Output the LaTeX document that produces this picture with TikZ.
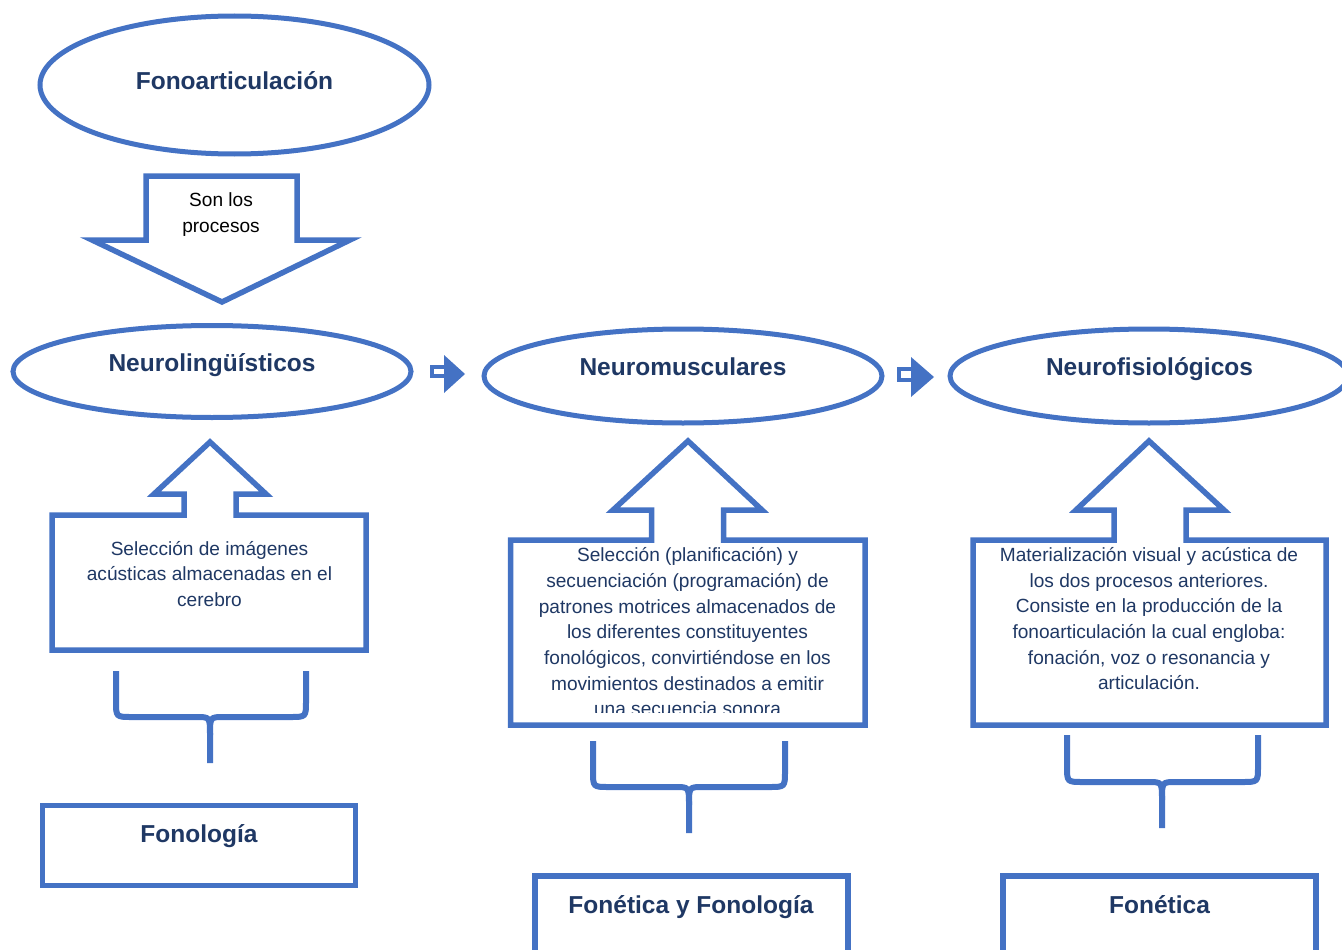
\documentclass[tikz,border=0pt]{standalone}
\usepackage{fontspec}
\setmainfont{Liberation Sans}
\usetikzlibrary{shapes.geometric}
\definecolor{wblue}{HTML}{4472C4}
\definecolor{navy}{HTML}{1F3864}
\newcommand\mybrace[6]{% L, R, top, horiz, cusp, bottom
  \draw[brace] (#1,#3) -- (#1,{#4-16}) .. controls (#1,#4) .. ({#1+16},#4) -- ({#5-14},#4) .. controls (#5,#4) .. (#5,{#4+18}) -- (#5,#6);
  \draw[brace] (#2,#3) -- (#2,{#4-16}) .. controls (#2,#4) .. ({#2-16},#4) -- ({#5+14},#4) .. controls (#5,#4) .. (#5,{#4+18});
}
\begin{document}
\begin{tikzpicture}[x=1pt,y=-1pt,
  ell/.style={ellipse, draw=wblue, line width=5pt, inner sep=0pt, fill=white},
  title/.style={font=\fontsize{24.5}{29}\selectfont\bfseries, text=navy, anchor=base, inner sep=0pt},
  body/.style={font=\fontsize{19.1}{25.6}\selectfont, text=navy, anchor=base, inner sep=0pt},
  blk/.style={draw=wblue, line width=5.5pt, fill=white, line join=miter},
  brace/.style={draw=wblue, line width=6pt},
  smallarrow/.style={draw=wblue, line width=4pt, fill=white},
  smallhead/.style={fill=wblue}
]
\path[use as bounding box] (0,0) rectangle (1342,950);
\clip (0,0) rectangle (1342,950);

% top ellipse
\node[ell, minimum width=389pt, minimum height=138pt] (e1) at (234.5,85) {};
\node[title] (t1) at (234.5,89) {Fonoarticulación};

% down block arrow
\draw[blk] (146,176) -- (297,176) -- (297,240) -- (350,240) -- (222,302) -- (92,240) -- (146,240) -- cycle;
\node[body, text=black] (son) at (221,206.5) {\begin{tabular}[t]{@{}c@{}}Son los\\procesos\end{tabular}};

% three process ellipses
\node[ell, minimum width=398pt, minimum height=92pt] (e2) at (212,371.5) {};
\node[title] (t2) at (212,371) {Neurolingüísticos};
\node[ell, minimum width=398pt, minimum height=94pt] (e3) at (683,376) {};
\node[title] (t3) at (683,375) {Neuromusculares};
\node[ell, minimum width=398pt, minimum height=94pt] (e4) at (1149,376) {};
\node[title] (t4) at (1149.5,375) {Neurofisiológicos};

% small right arrows
\draw[smallarrow] (432,367) rectangle (446,376);
\fill[smallhead] (444,355) -- (465,374) -- (444,393) -- cycle;
\draw[smallarrow] (899,369) rectangle (913,380);
\fill[smallhead] (911,357) -- (934,377) -- (911,397) -- cycle;

% callout 1
\draw[blk] (52,515) -- (184,515) -- (184,494) -- (154,494) -- (210,442) -- (266,494) -- (236,494) -- (236,515) -- (366,515) -- (366,650) -- (52,650) -- cycle;
\node[body] (c1) at (209.5,555) {\begin{tabular}[t]{@{}c@{}}Selección de imágenes\\acústicas almacenadas en el\\cerebro\end{tabular}};

% callout 2
\draw[blk] (510.5,540) -- (651.5,540) -- (651.5,510) -- (613,510) -- (688,441) -- (762,510) -- (723.5,510) -- (723.5,540) -- (865,540) -- (865,725) -- (510.5,725) -- cycle;
\begin{scope}
\clip (514,543) rectangle (862,712.5);
\node[body, font=\fontsize{19.1}{25.7}\selectfont] (c2) at (687.5,561.7) {\begin{tabular}[t]{@{}c@{}}Selección (planificación) y\\secuenciación (programación) de\\patrones motrices almacenados de\\los diferentes constituyentes\\fonológicos, convirtiéndose en los\\movimientos destinados a emitir\\una secuencia sonora\end{tabular}};
\end{scope}

% callout 3
\draw[blk] (973,540) -- (1114,540) -- (1114,510) -- (1076,510) -- (1149,441) -- (1224,510) -- (1186,510) -- (1186,540) -- (1326,540) -- (1326,725) -- (973,725) -- cycle;
\node[body] (c3) at (1149,561.7) {\begin{tabular}[t]{@{}c@{}}Materialización visual y acústica de\\los dos procesos anteriores.\\Consiste en la producción de la\\fonoarticulación la cual engloba:\\fonación, voz o resonancia y\\articulación.\end{tabular}};

% braces
\mybrace{116}{306}{671}{717}{210}{763}
\mybrace{593}{785}{741}{787}{689}{833}
\mybrace{1067}{1258}{735}{782}{1162}{828}

% bottom boxes
\draw[blk] (42.5,805.5) rectangle (355.5,885.5);
\node[title] (b1) at (199,842) {Fonología};
\draw[blk] (535,876) rectangle (848,970);
\node[title] (b2) at (691,913) {Fonética y Fonología};
\draw[blk] (1003,876) rectangle (1316,970);
\node[title] (b3) at (1159.5,913) {Fonética};
\end{tikzpicture}
\end{document}
